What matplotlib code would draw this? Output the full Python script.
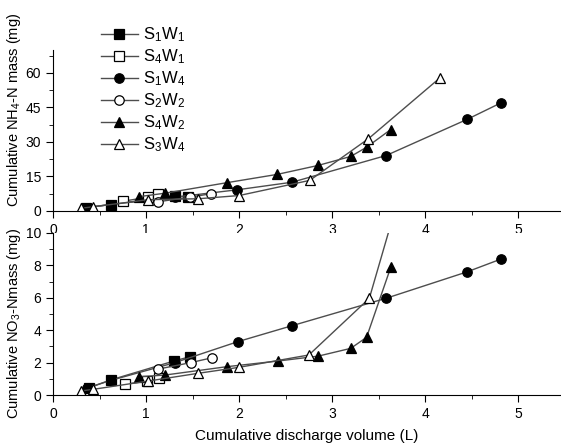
import matplotlib
matplotlib.use("Agg")
import matplotlib.pyplot as plt
from matplotlib.ticker import MultipleLocator

plt.rcParams['font.family'] = ['Liberation Sans', 'DejaVu Sans']
plt.rcParams['mathtext.fontset'] = 'custom'
plt.rcParams['mathtext.rm'] = 'Liberation Sans'
plt.rcParams['mathtext.it'] = 'Liberation Sans'

labels = ["S$_1$W$_1$", "S$_4$W$_1$", "S$_1$W$_4$", "S$_2$W$_2$", "S$_4$W$_2$", "S$_3$W$_4$"]
markers = ["s", "s", "o", "o", "^", "^"]
filled = [True, False, True, False, True, False]

# cumulative NH4-N mass (mg) vs discharge volume (L)
nh4_x = [
    [0.35, 0.62, 1.31, 1.45],
    [0.75, 1.02, 1.13],
    [0.37, 0.62, 1.31, 1.98, 2.57, 3.58, 4.45, 4.81],
    [1.13, 1.47, 1.70],
    [0.92, 1.20, 1.87, 2.41, 2.85, 3.20, 3.37, 3.63],
    [0.30, 0.43, 1.02, 1.56, 2.00, 2.76, 3.39, 4.16],
]
nh4_y = [
    [1.5, 2.8, 6.4, 6.2],
    [4.2, 6.0, 7.2],
    [1.5, 2.8, 6.0, 9.2, 12.5, 24.1, 39.8, 46.9],
    [4.0, 6.0, 7.5],
    [6.2, 7.7, 12.3, 15.9, 19.8, 23.7, 27.7, 35.4],
    [1.2, 1.8, 4.9, 5.3, 6.7, 13.3, 31.4, 57.9],
]

# cumulative NO3-N mass (mg) vs discharge volume (L)
no3_x = [
    [0.39, 0.62, 1.30, 1.47],
    [0.77, 1.01, 1.14],
    [0.37, 0.62, 1.31, 1.99, 2.57, 3.58, 4.45, 4.81],
    [1.13, 1.48, 1.71],
    [0.92, 1.20, 1.87, 2.42, 2.85, 3.20, 3.37, 3.63],
    [0.30, 0.43, 1.02, 1.56, 2.00, 2.75, 3.40, 4.16],
]
no3_y = [
    [0.45, 0.93, 2.1, 2.36],
    [0.66, 0.86, 1.03],
    [0.45, 0.90, 2.0, 3.3, 4.28, 5.97, 7.6, 8.38],
    [1.6, 2.0, 2.3],
    [1.13, 1.23, 1.75, 2.1, 2.4, 2.88, 3.56, 7.88],
    [0.25, 0.35, 0.86, 1.34, 1.71, 2.47, 5.97, 21.0],
]

fig = plt.figure(figsize=(5.61, 4.46), dpi=100)
ax1 = fig.add_axes([0.0945, 0.527, 0.9055, 0.361])
ax2 = fig.add_axes([0.0945, 0.1143, 0.9055, 0.3633])

def draw(ax, xs, ys):
    for x, y, m, f, lab in zip(xs, ys, markers, filled, labels):
        ax.plot(x, y, color="#4d4d4d", lw=1.0, marker=m, ms=6.8,
                mfc="black" if f else "white", mec="black", mew=0.9, label=lab)
    ax.spines["top"].set_visible(False)
    ax.spines["right"].set_visible(False)
    ax.set_xlim(0, 5.46)
    ax.xaxis.set_major_locator(MultipleLocator(1))
    ax.xaxis.set_minor_locator(MultipleLocator(0.5))
    ax.tick_params(which="both", direction="out", labelsize=10)
    ax.tick_params(which="major", length=5)
    ax.tick_params(which="minor", length=3)

draw(ax1, nh4_x, nh4_y)
ax1.set_ylim(0, 70)
ax1.yaxis.set_major_locator(MultipleLocator(15))
ax1.yaxis.set_minor_locator(MultipleLocator(7.5))
ax1.set_ylabel("Cumulative NH$_4$-N mass (mg)", fontsize=10.5)
ax1.yaxis.set_label_coords(-0.06, 0.63)

draw(ax2, no3_x, no3_y)
ax2.set_ylim(0, 10)
ax2.yaxis.set_major_locator(MultipleLocator(2))
ax2.yaxis.set_minor_locator(MultipleLocator(1))
ax2.set_ylabel("Cumulative NO$_3$-Nmass (mg)", fontsize=10.5)
ax2.yaxis.set_label_coords(-0.06, 0.44)
ax2.set_xlabel("Cumulative discharge volume (L)", fontsize=11, labelpad=6)

handles, labs = ax1.get_legend_handles_labels()
fig.legend(handles, labs, loc="upper left", bbox_to_anchor=(0.168, 0.958),
           frameon=False, fontsize=12, handlelength=2.2, labelspacing=0.2,
           handletextpad=0.3, borderaxespad=0)

fig.savefig("out.png", dpi=100)
